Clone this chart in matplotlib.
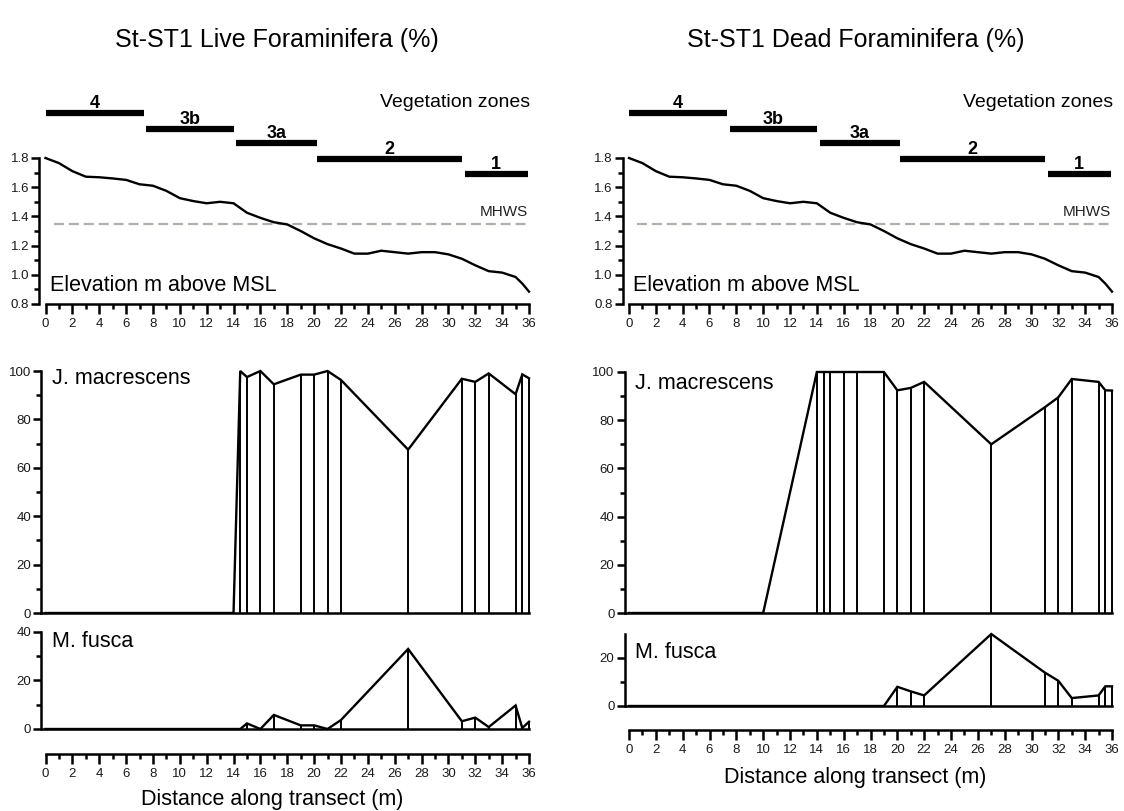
import matplotlib
matplotlib.use("Agg")
import matplotlib.pyplot as plt
from matplotlib.ticker import MultipleLocator, FixedLocator

plt.rcParams['font.family'] = ['Liberation Sans', 'DejaVu Sans']

W, H = 1124, 811

# ---------------- data ----------------
# surveyed elevation profile (m above MSL) along the transect
elev_dist = [0, 1, 2, 3, 4, 5, 6, 7, 8, 9, 10, 11, 12, 13, 14, 15, 16, 17, 18,
             19, 20, 21, 22, 23, 24, 25, 26, 27, 28, 29, 30, 31, 32, 33, 34,
             35, 35.5, 36]
elevation = [1.80, 1.765, 1.71, 1.672, 1.668, 1.66, 1.65, 1.62, 1.61, 1.575,
             1.525, 1.505, 1.49, 1.50, 1.49, 1.425, 1.39, 1.36, 1.345, 1.30,
             1.25, 1.21, 1.18, 1.145, 1.145, 1.165, 1.155, 1.145, 1.155, 1.155,
             1.14, 1.11, 1.065, 1.025, 1.015, 0.985, 0.94, 0.885]
mhws_level = 1.35

# vegetation zones (start, end in m) and the height at which each bar sits
zone_names = ['4', '3b', '3a', '2', '1']
zone_start = [0.0, 7.5, 14.2, 20.2, 31.2]
zone_end = [7.3, 14.0, 20.2, 31.0, 35.9]
zone_level = [2.11, 2.00, 1.90, 1.795, 1.69]

# live assemblage (%)
live_dist = [0, 14, 14.5, 15, 16, 17, 19, 20, 21, 22, 27, 31, 32, 33, 35, 35.5, 36]
live_jmac = [0, 0, 100, 97.5, 100, 94.5, 98.5, 98.5, 100, 96.3, 67.5, 96.8,
             95.5, 99, 90.4, 98.6, 97]
live_mfus = [0, 0, 0, 2.3, 0, 5.8, 1.5, 1.5, 0, 3.7, 33, 3.2, 4.7, 0.8, 9.7,
             0.4, 3]

# dead assemblage (%)
dead_dist = [0, 10, 14, 14.5, 15, 16, 17, 19, 20, 21, 22, 27, 31, 32, 33, 35,
             35.5, 36]
dead_jmac = [0, 0, 100, 100, 100, 100, 100, 100, 92.4, 93.4, 95.9, 70, 85.4,
             89.5, 97.1, 95.9, 92.4, 92.3]
dead_mfus = [0, 0, 0, 0, 0, 0, 0, 0, 8, 6.1, 4.4, 30, 13.9, 10.5, 3.3, 4.4,
             8.2, 8.2]

x_major = list(range(0, 37, 2))

fig = plt.figure(figsize=(W / 100, H / 100), dpi=100)

LW_AX = 1.8
LW_DATA = 1.7
TICK_FS = 9.5
LABEL_FS = 15.5


def place_axes(x0, x36, xlim, yref, ylim):
    """Create axes whose data x=0/36 and the two y reference values land on
    the given pixel positions."""
    ppm = (x36 - x0) / 36.0
    left = x0 + xlim[0] * ppm
    right = x0 + xlim[1] * ppm
    (va, pa), (vb, pb) = yref
    ppu = (pa - pb) / (vb - va)
    bottom = pa + (va - ylim[0]) * ppu
    top = pa - (ylim[1] - va) * ppu
    ax = fig.add_axes([left / W, 1 - bottom / H, (right - left) / W,
                       (bottom - top) / H])
    ax.set_xlim(*xlim)
    ax.set_ylim(*ylim)
    ax.patch.set_alpha(0)
    ax.spines['top'].set_visible(False)
    ax.spines['right'].set_visible(False)
    for s in ('left', 'bottom'):
        ax.spines[s].set_linewidth(LW_AX)
    ax.tick_params(axis='y', which='major', length=6, width=LW_AX,
                   labelsize=TICK_FS, pad=1.5, labelcolor='#1a1a1a')
    ax.tick_params(axis='y', which='minor', length=3.7, width=LW_AX)
    ax.tick_params(axis='x', which='major', length=7.5, width=LW_AX,
                   labelsize=TICK_FS, pad=2.5, labelcolor='#1a1a1a')
    ax.tick_params(axis='x', which='minor', length=3.8, width=LW_AX)
    return ax


def x_axis(ax):
    ax.spines['bottom'].set_bounds(0, 36)
    ax.xaxis.set_major_locator(FixedLocator(x_major))
    ax.xaxis.set_minor_locator(MultipleLocator(1))
    ax.set_xticklabels([str(v) for v in x_major])


def elevation_panel(x0, x36, ytop, ybot):
    ax = place_axes(x0, x36, (-0.45, 36.4), ((1.8, ytop), (0.8, ybot)),
                    (0.8, 2.3))
    ax.spines['left'].set_bounds(0.8, 1.8)
    ax.yaxis.set_major_locator(FixedLocator([0.8, 1.0, 1.2, 1.4, 1.6, 1.8]))
    ax.yaxis.set_minor_locator(FixedLocator([0.9, 1.1, 1.3, 1.5, 1.7]))
    ax.set_yticklabels(['0.8', '1.0', '1.2', '1.4', '1.6', '1.8'])
    x_axis(ax)
    ax.hlines(mhws_level, 0.6, 36, colors='#b3aea8', lw=1.6,
              linestyles=(0, (4.5, 2.2)))
    ax.plot(elev_dist, elevation, color='black', lw=LW_DATA,
            solid_joinstyle='round')
    for name, s, e, lvl in zip(zone_names, zone_start, zone_end, zone_level):
        ax.hlines(lvl, s, e, colors='black', lw=4.5, capstyle='butt')
        ax.text((s + e) / 2, lvl + 0.035, name, ha='center', va='baseline',
                fontsize=13, fontweight='bold')
    ax.text(36.1, 2.178, 'Vegetation zones', ha='right', va='center',
            fontsize=14)
    ax.text(35.95, 1.43, 'MHWS', ha='right', va='center', fontsize=11,
            color='#222222')
    ax.text(0.3, 0.93, 'Elevation m above MSL', ha='left', va='center',
            fontsize=LABEL_FS)
    return ax


def species_panel(x0, x36, dist, vals, yref, ylim, spine_top, majors, minors,
                  label, label_y, bottom_axis=False):
    ax = place_axes(x0, x36, (-0.3, 36.3), yref, ylim)
    ax.spines['left'].set_bounds(0, spine_top)
    ax.yaxis.set_major_locator(FixedLocator(majors))
    ax.yaxis.set_minor_locator(FixedLocator(minors))
    ax.set_yticklabels([str(v) for v in majors])
    if bottom_axis:
        x_axis(ax)
        ax.axhline(0, xmin=0, xmax=36.3 / 36.6, color='black', lw=LW_AX)
    else:
        ax.spines['bottom'].set_bounds(-0.3, 36)
        ax.set_xticks([])
    ax.vlines([d for d, v in zip(dist, vals) if v > 0], 0,
              [v for v in vals if v > 0], colors='black', lw=1.4)
    ax.plot(dist, vals, color='black', lw=LW_DATA, solid_joinstyle='miter')
    ax.text(0.45, label_y, label, ha='left', va='center', fontsize=LABEL_FS)
    return ax


# ---------------- left: live ----------------
LX0, LX36 = 45.5, 529
fig.text(277 / W, 1 - 40 / H, 'St-ST1 Live Foraminifera (%)', ha='center',
         va='center', fontsize=18)
elevation_panel(LX0, LX36, 158, 304)
species_panel(LX0, LX36, live_dist, live_jmac, ((0, 613), (100, 371)),
              (0, 104), 100, [0, 20, 40, 60, 80, 100], [10, 30, 50, 70, 90],
              'J. macrescens', 96.8)
species_panel(LX0, LX36, live_dist, live_mfus, ((0, 729), (40, 632)),
              (-10.3, 42), 40, [0, 20, 40], [10, 30], 'M. fusca', 36,
              bottom_axis=True)
fig.text(272 / W, 1 - 800 / H, 'Distance along transect (m)', ha='center',
         va='center', fontsize=LABEL_FS)

# ---------------- right: dead ----------------
RX0, RX36 = 629, 1112
fig.text(856 / W, 1 - 40 / H, 'St-ST1 Dead Foraminifera (%)', ha='center',
         va='center', fontsize=18)
elevation_panel(RX0, RX36, 158, 304)
species_panel(RX0, RX36, dead_dist, dead_jmac, ((0, 613), (100, 372)),
              (0, 104), 100, [0, 20, 40, 60, 80, 100], [10, 30, 50, 70, 90],
              'J. macrescens', 95.3)
species_panel(RX0, RX36, dead_dist, dead_mfus, ((0, 706), (20, 658)),
              (-10.2, 31), 30, [0, 20], [10], 'M. fusca', 22.4,
              bottom_axis=True)
fig.text(855 / W, 1 - 777 / H, 'Distance along transect (m)', ha='center',
         va='center', fontsize=LABEL_FS)

fig.savefig('out.png', dpi=100)
